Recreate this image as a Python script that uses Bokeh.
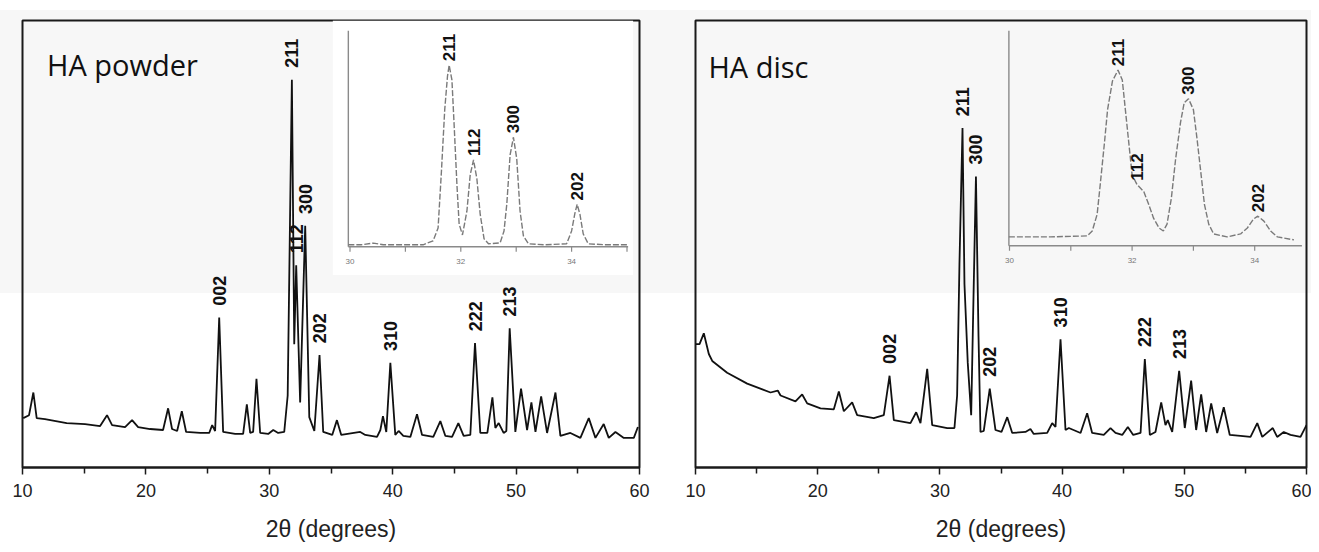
import numpy as np
from bokeh.plotting import figure
from bokeh.layouts import row
from bokeh.models import FixedTicker, Range1d
from bokeh.core.properties import value
from bokeh.embed import file_html
from bokeh.resources import INLINE

# ---------------- data ----------------
x_ticks = [10, 20, 30, 40, 50, 60]
x_minor_ticks = [15, 25, 35, 45, 55]
inset_ticks = [30, 31, 32, 33, 34, 35]
inset_tick_labels = ["30", "32", "34"]
inset_tick_label_pos = [30, 32, 34]

powder_2theta = [10.06, 10.53, 10.88, 11.15, 11.82, 13.58, 15.07, 16.29, 16.85, 17.26,
                 18.31, 18.88, 19.37, 20.34, 21.39, 21.80, 22.12, 22.53, 22.91, 23.26,
                 24.40, 25.13, 25.37, 25.61, 25.94, 26.26, 27.23, 27.88, 28.18, 28.45,
                 28.69, 28.96, 29.26, 29.91, 30.32, 30.72, 31.21, 31.49, 31.83, 32.02,
                 32.18, 32.50, 32.91, 33.24, 33.65, 34.07, 34.37, 35.10, 35.48, 35.83,
                 37.37, 37.78, 38.73, 39.00, 39.21, 39.48, 39.81, 40.21, 40.48, 40.86,
                 41.43, 41.97, 42.38, 43.29, 43.86, 44.27, 44.81, 45.32, 45.75, 46.29,
                 46.67, 47.10, 47.67, 48.08, 48.32, 48.59, 48.99, 49.21, 49.48, 49.94,
                 50.40, 50.89, 51.24, 51.57, 52.03, 52.51, 53.19, 53.59, 54.40, 55.21,
                 55.89, 56.43, 57.10, 57.51, 58.05, 58.73, 59.54, 59.87]
powder_intensity = [50, 53, 76, 50, 49, 45, 44, 42, 53, 43,
                    41, 48, 41, 39, 38, 60, 39, 37, 57, 36,
                    35, 35, 43, 37, 152, 36, 34, 34, 64, 35,
                    36, 90, 35, 34, 38, 35, 36, 73, 393, 125,
                    205, 66, 245, 51, 37, 114, 36, 33, 48, 33,
                    36, 33, 31, 38, 52, 36, 106, 33, 37, 32,
                    31, 54, 33, 31, 47, 32, 31, 45, 32, 33,
                    126, 35, 35, 71, 40, 45, 35, 37, 141, 36,
                    80, 38, 66, 36, 72, 35, 76, 32, 35, 30,
                    50, 30, 44, 30, 36, 30, 30, 41]

disc_2theta = [10.00, 10.33, 10.68, 11.09, 11.37, 12.59, 14.23, 16.14, 16.73, 16.96,
               18.18, 18.73, 19.14, 20.23, 21.32, 21.73, 22.14, 22.82, 23.23, 24.59,
               25.41, 25.88, 26.23, 27.59, 28.06, 28.41, 28.96, 29.37, 30.60, 31.19,
               31.41, 31.60, 31.85, 32.01, 32.28, 32.56, 32.75, 32.95, 33.16, 33.32,
               33.59, 34.08, 34.55, 35.04, 35.51, 35.92, 37.00, 37.41, 37.68, 38.78,
               39.19, 39.46, 39.87, 40.28, 40.55, 41.51, 42.05, 42.46, 43.41, 43.96,
               44.37, 44.92, 45.38, 45.82, 46.42, 46.77, 47.18, 47.64, 48.11, 48.46,
               48.65, 49.01, 49.58, 50.04, 50.56, 50.97, 51.38, 51.79, 52.20, 52.69,
               53.23, 53.72, 54.60, 55.42, 55.97, 56.38, 57.24, 57.60, 58.14, 58.69,
               59.51, 60.00]
disc_intensity = [125, 125, 136, 115, 108, 96, 85, 76, 78, 73,
                  67, 74, 65, 60, 59, 77, 57, 66, 53, 50,
                  53, 93, 48, 45, 56, 45, 100, 43, 40, 40,
                  73, 206, 344, 186, 106, 53, 173, 295, 133, 36,
                  37, 80, 38, 36, 51, 35, 36, 39, 34, 35,
                  45, 41, 130, 38, 40, 35, 55, 35, 33, 40,
                  35, 33, 41, 33, 35, 110, 33, 36, 66, 43,
                  48, 36, 98, 40, 88, 38, 74, 36, 65, 35,
                  61, 33, 32, 31, 45, 31, 40, 31, 36, 33,
                  31, 43]

powder_inset_2theta = [29.97, 30.20, 30.42, 30.60, 31.00, 31.32, 31.50, 31.59, 31.65, 31.71,
                       31.76, 31.79, 31.84, 31.88, 31.93, 31.97, 32.03, 32.11, 32.17, 32.23,
                       32.29, 32.35, 32.42, 32.50, 32.71, 32.78, 32.83, 32.89, 32.95, 33.01,
                       33.07, 33.13, 33.22, 33.50, 33.91, 34.00, 34.06, 34.10, 34.15, 34.21,
                       34.30, 34.60, 35.02]
powder_inset_intensity = [2, 2, 3.7, 2, 2, 2, 6, 19, 76, 139,
                          173, 184, 169, 123, 63, 23, 12, 36, 73, 88,
                          69, 33, 8, 3, 4, 16, 43, 93, 111, 89,
                          36, 11, 3, 2, 3, 16, 34, 43, 33, 13,
                          3, 2, 2]

disc_inset_2theta = [29.99, 30.67, 31.27, 31.35, 31.43, 31.48, 31.55, 31.60, 31.68, 31.77,
                     31.84, 31.89, 31.95, 32.00, 32.08, 32.19, 32.27, 32.35, 32.44, 32.51,
                     32.57, 32.64, 32.71, 32.79, 32.85, 32.92, 33.00, 33.06, 33.12, 33.18,
                     33.25, 33.33, 33.55, 33.77, 33.88, 33.98, 34.05, 34.15, 34.26, 34.37,
                     34.64]
disc_inset_intensity = [9, 9, 10, 15, 32, 62, 105, 138, 167, 178,
                        168, 138, 102, 72, 62, 55, 42, 28, 18, 15,
                        22, 48, 88, 125, 145, 149, 138, 108, 75, 42,
                        22, 12, 9, 12, 18, 27, 30, 25, 15, 9,
                        6]

powder_hkl = ["002", "211", "112", "300", "202", "310", "222", "213"]
powder_hkl_2theta = [25.94, 31.83, 32.18, 32.91, 34.07, 39.81, 46.67, 49.48]
powder_hkl_intensity = [152, 393, 205, 245, 114, 106, 126, 141]

disc_hkl = ["002", "211", "300", "202", "310", "222", "213"]
disc_hkl_2theta = [25.88, 31.85, 32.95, 34.08, 39.87, 46.77, 49.58]
disc_hkl_intensity = [93, 344, 295, 80, 130, 110, 98]

powder_inset_hkl = ["211", "112", "300", "202"]
powder_inset_hkl_2theta = [31.79, 32.23, 32.95, 34.10]
powder_inset_hkl_intensity = [184, 88, 111, 43]

disc_inset_hkl = ["211", "112", "300", "202"]
disc_inset_hkl_2theta = [31.77, 32.08, 32.92, 34.05]
disc_inset_hkl_intensity = [178, 62, 149, 30]

# ---------------- styling / layout ----------------
FRAME_H = 453
HEIGHT = 544
TOP = 20
LBL_FONT = "Liberation Sans"
BAND = ("linear-gradient(to bottom, #ffffff 0px, #ffffff 10px, #f7f7f7 10px, "
        "#f7f7f7 293px, #ffffff 293px, #ffffff 100%)")


def panel(tt, inten, ins_x, ins_y, hkl, hkl_x, hkl_y, ihkl, ihkl_x, ihkl_y,
          name, name_x, name_y, width, b_left, b_right,
          inset_x0_px, inset_ppd, inset_zero_px, inset_xmax, inset_ytop, white_box):
    frame_w = width - b_left - b_right
    p = figure(width=width, height=HEIGHT, output_backend="svg", toolbar_location=None,
               x_range=Range1d(10, 60), y_range=Range1d(0, FRAME_H),
               y_axis_location=None,
               min_border_left=b_left, min_border_right=b_right,
               min_border_top=TOP, min_border_bottom=HEIGHT - TOP - FRAME_H,
               styles={"background": BAND})
    p.background_fill_color = None
    p.border_fill_color = None
    p.outline_line_color = "#1a1a1a"
    p.outline_line_width = 2
    p.xgrid.visible = False
    p.ygrid.visible = False

    # inset coordinate system
    ix0 = 30 - inset_x0_px / inset_ppd
    ix1 = 30 + (frame_w - inset_x0_px) / inset_ppd
    p.extra_x_ranges = {"ix": Range1d(ix0, ix1)}
    p.extra_y_ranges = {"iy": Range1d(-inset_zero_px, FRAME_H - inset_zero_px)}

    ax = p.xaxis[0]
    ax.ticker = FixedTicker(ticks=x_ticks, minor_ticks=x_minor_ticks)
    ax.axis_line_color = "#1a1a1a"
    ax.axis_line_width = 2
    ax.major_tick_in = 0
    ax.major_tick_out = 7
    ax.minor_tick_in = 0
    ax.minor_tick_out = 6
    ax.major_tick_line_width = 1.5
    ax.minor_tick_line_width = 1.5
    ax.major_tick_line_color = "#1a1a1a"
    ax.minor_tick_line_color = "#1a1a1a"
    ax.major_label_text_font = LBL_FONT
    ax.major_label_text_font_size = "18px"
    ax.major_label_text_color = "#222222"
    ax.major_label_standoff = 9
    ax.axis_label = "2\u03b8 (degrees)"
    ax.axis_label_text_font = LBL_FONT
    ax.axis_label_text_font_size = "23px"
    ax.axis_label_text_font_style = "normal"
    ax.axis_label_text_color = "#222222"
    ax.axis_label_standoff = 16

    if white_box:
        p.quad(left=[29.69], right=[35.11], bottom=[-28.7], top=[FRAME_H - inset_zero_px],
               x_range_name="ix", y_range_name="iy", fill_color="white", line_color=None)

    # main pattern
    p.line(tt, inten, line_color="#111111", line_width=1.8)

    # inset axes
    p.segment(x0=[ins_x[0], ins_x[0]], y0=[0, 0], x1=[ins_x[0], inset_xmax], y1=[inset_ytop, 0],
              x_range_name="ix", y_range_name="iy", line_color="#8a8a8a", line_width=1.4)
    ticks = [t for t in inset_ticks if t <= inset_xmax]
    p.segment(x0=ticks, y0=[0] * len(ticks), x1=ticks, y1=[-5] * len(ticks),
              x_range_name="ix", y_range_name="iy", line_color="#8a8a8a", line_width=1.2)
    p.text(x=inset_tick_label_pos, y=[-15] * len(inset_tick_label_pos), text=inset_tick_labels,
           x_range_name="ix", y_range_name="iy", text_font=value(LBL_FONT),
           text_font_size=value("8px"), text_color="#777777",
           text_align="center", text_baseline="middle")
    # inset pattern
    p.line(ins_x, ins_y, x_range_name="ix", y_range_name="iy",
           line_color="#7a7a7a", line_width=1.4, line_dash="6 2")

    # peak labels (main)
    p.text(x=hkl_x, y=[v + 12 for v in hkl_y], text=hkl, angle=np.pi / 2,
           text_font=value(LBL_FONT), text_font_style="bold", text_font_size=value("18px"),
           text_color="#111111", text_align="left", text_baseline="middle")
    # peak labels (inset)
    p.text(x=ihkl_x, y=[v + 4 for v in ihkl_y], text=ihkl, angle=np.pi / 2,
           x_range_name="ix", y_range_name="iy",
           text_font=value(LBL_FONT), text_font_style="bold", text_font_size=value("17px"),
           text_color="#111111", text_align="left", text_baseline="middle")

    # panel name
    p.text(x=[name_x], y=[name_y], text=[name], text_font=value("Open Sans"),
           text_font_size=value("29px"), text_color="#111111",
           text_align="left", text_baseline="alphabetic")
    return p


p1 = panel(powder_2theta, powder_intensity, powder_inset_2theta, powder_inset_intensity,
           powder_hkl, powder_hkl_2theta, powder_hkl_intensity,
           powder_inset_hkl, powder_inset_hkl_2theta, powder_inset_hkl_intensity,
           "HA powder", 11.99, 408, 659, 22, 20,
           327.5, 55.4, 223.7, 35.02, 219, True)

p2 = panel(disc_2theta, disc_intensity, disc_inset_2theta, disc_inset_intensity,
           disc_hkl, disc_hkl_2theta, disc_hkl_intensity,
           disc_inset_hkl, disc_inset_hkl_2theta, disc_inset_hkl_intensity,
           "HA disc", 11.06, 406, 652, 36, 5,
           314, 61.3, 224.7, 34.77, 218, False)

layout = row(p1, p2)
open("out.html", "w").write(file_html(layout, INLINE))
